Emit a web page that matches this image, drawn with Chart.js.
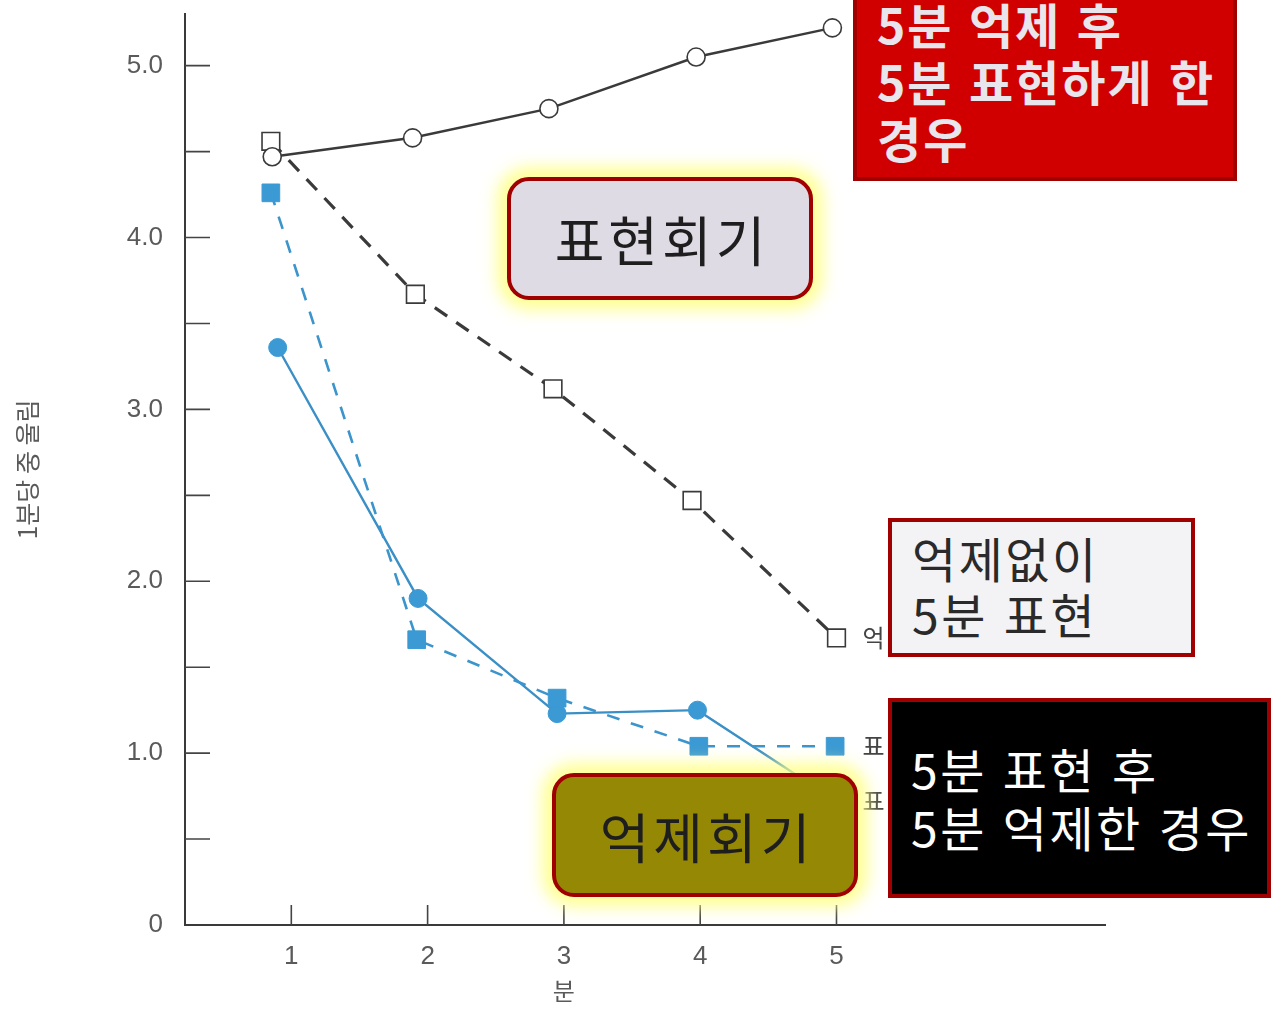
<!DOCTYPE html>
<html lang="ko">
<head>
<meta charset="utf-8">
<script src="https://cdn.jsdelivr.net/npm/chart.js@4.4.1/dist/chart.umd.min.js"></script>
<style>
  html, body { margin: 0; padding: 0; background: #fff; }
  #wrap { position: relative; width: 1278px; height: 1009px; overflow: hidden; }
  canvas { position: absolute; left: 0; top: 0; }
  .note {
    position: absolute;
    box-sizing: border-box;
    border: 4px solid #a00000;
    font-family: "Noto Sans CJK KR", "Noto Sans", sans-serif;
    white-space: nowrap;
  }
  .session {
    border-radius: 22px;
    font-size: 54px;
    letter-spacing: 4px;
    color: #1e1e1e;
    display: flex;
    align-items: center;
    justify-content: center;
    box-shadow: 0 0 16px 10px rgba(255, 255, 130, 0.85);
  }
</style>
</head>
<body>
<div id="wrap">
  <canvas id="chart" width="1278" height="1009"></canvas>
  <div class="note" style="left:853px;top:-9px;width:384px;height:190px;background:#d10000;color:#e8e6ec;font-weight:bold;font-size:48px;letter-spacing:2px;line-height:57px;padding:0 0 0 20px;">5분 억제 후<br>5분 표현하게 한<br>경우</div>
  <div class="note session" style="left:507px;top:177px;width:306px;height:123px;background:#dfdbe5;padding-left:4px;">표현회기</div>
  <div class="note" style="left:888px;top:518px;width:307px;height:139px;background:#f3f3f5;color:#2a2a2a;font-size:48px;letter-spacing:2.5px;line-height:56px;padding:7px 0 0 20px;">억제없이<br>5분 표현</div>
  <div class="note" style="left:888px;top:698px;width:383px;height:200px;background:#000;color:#fff;font-size:48px;letter-spacing:2.5px;line-height:58px;padding:37px 0 0 19px;">5분 표현 후<br>5분 억제한 경우</div>
  <div class="note session" style="left:552px;top:773px;width:306px;height:124px;background:#958805;padding-left:4px;">억제회기</div>
</div>
<script>
"use strict";

// readings from the figure (x = minute, y = value per minute)
const xTicks = [1, 2, 3, 4, 5];
const yTicks = [0, 1, 2, 3, 4, 5];
const yMinorTicks = [0.5, 1, 1.5, 2, 2.5, 3, 3.5, 4, 4.5, 5];

// 5분 억제 후 5분 표현 (solid, open circles)
const supThenExpX = [0.86, 1.89, 2.89, 3.97, 4.97];
const supThenExpY = [4.47, 4.58, 4.75, 5.05, 5.22];

// 억제없이 5분 표현 (dashed, open squares)
const expOnlyX = [0.85, 1.91, 2.92, 3.94, 5.0];
const expOnlyY = [4.56, 3.67, 3.12, 2.47, 1.67];

// dashed blue, filled squares
const blueDashX = [0.85, 1.92, 2.95, 3.99, 4.99];
const blueDashY = [4.26, 1.66, 1.32, 1.04, 1.04];

// 5분 표현 후 5분 억제 (solid blue, filled circles)
const expThenSupX = [0.9, 1.93, 2.95, 3.98, 5.0];
const expThenSupY = [3.36, 1.9, 1.23, 1.25, 0.72];

const endLabels = ["", "억", "표", "표"];

const toPoints = (xs, ys) => xs.map((x, i) => ({ x, y: ys[i] }));

const axisFont = { family: "'Liberation Sans', Arial, sans-serif", size: 26 };
const inkGray = "#5a5a5a";

const innerTicks = {
  id: "innerTicks",
  afterDraw(chart) {
    const { ctx, chartArea, scales } = chart;
    const { x, y } = scales;
    ctx.save();
    ctx.strokeStyle = "#444";
    ctx.lineWidth = 1.6;
    ctx.beginPath();
    for (const v of yMinorTicks) {
      const py = y.getPixelForValue(v);
      ctx.moveTo(chartArea.left, py);
      ctx.lineTo(chartArea.left + 25, py);
    }
    for (const v of xTicks) {
      const px = x.getPixelForValue(v);
      ctx.moveTo(px, chartArea.bottom);
      ctx.lineTo(px, chartArea.bottom - 20);
    }
    ctx.stroke();

    // short labels at the right end of each line
    ctx.fillStyle = "#444";
    ctx.font = "24px 'Noto Sans CJK KR', sans-serif";
    ctx.textBaseline = "middle";
    chart.data.datasets.forEach((ds, i) => {
      if (!endLabels[i]) return;
      const last = ds.data[ds.data.length - 1];
      ctx.fillText(endLabels[i], x.getPixelForValue(5) + 26, y.getPixelForValue(last.y));
    });

    // x axis title sits under the middle tick, not the middle of the axis
    ctx.fillStyle = inkGray;
    ctx.textAlign = "center";
    ctx.fillText("분", x.getPixelForValue(3), chartArea.bottom + 66);
    ctx.restore();
  },
};

new Chart(document.getElementById("chart"), {
  type: "line",
  data: {
    datasets: [
      {
        label: "5분 억제 후 5분 표현",
        data: toPoints(supThenExpX, supThenExpY),
        borderColor: "#3a3a3a",
        borderWidth: 2.5,
        pointStyle: "circle",
        pointRadius: 9,
        pointBackgroundColor: "#fff",
        pointBorderColor: "#3a3a3a",
        pointBorderWidth: 1.6,
      },
      {
        label: "억제없이 5분 표현",
        data: toPoints(expOnlyX, expOnlyY),
        borderColor: "#3a3a3a",
        borderWidth: 3.2,
        borderDash: [15, 11],
        pointStyle: "rect",
        pointRadius: 12.5,
        pointBackgroundColor: "#fff",
        pointBorderColor: "#3a3a3a",
        pointBorderWidth: 1.6,
      },
      {
        label: "표현",
        data: toPoints(blueDashX, blueDashY),
        borderColor: "#3b94cc",
        borderWidth: 2.6,
        borderDash: [13, 12],
        pointStyle: "rect",
        pointRadius: 12.5,
        pointBackgroundColor: "#3b9ad4",
        pointBorderColor: "#3b9ad4",
        pointBorderWidth: 1,
      },
      {
        label: "5분 표현 후 5분 억제",
        data: toPoints(expThenSupX, expThenSupY),
        borderColor: "#3a8fc6",
        borderWidth: 2.4,
        pointStyle: "circle",
        pointRadius: 9,
        pointBackgroundColor: "#3b9ad4",
        pointBorderColor: "#3b9ad4",
        pointBorderWidth: 1,
      },
    ],
  },
  options: {
    responsive: false,
    animation: false,
    events: [],
    layout: { padding: { top: 14, right: 173, left: 0, bottom: 0 } },
    elements: { line: { tension: 0 } },
    plugins: {
      legend: { display: false },
      tooltip: { enabled: false },
    },
    scales: {
      x: {
        type: "linear",
        min: 0.22,
        max: 6.97,
        afterFit: (scale) => {
          scale.height = 84;
          scale.paddingLeft = 0;
          scale.paddingRight = 0;
        },
        afterBuildTicks: (scale) => {
          scale.ticks = xTicks.map((value) => ({ value }));
        },
        grid: { display: true, drawOnChartArea: false, drawTicks: false },
        border: { display: true, color: "#3a3a3a", width: 2 },
        ticks: {
          color: inkGray,
          font: axisFont,
          padding: 16,
          callback: (v) => String(v),
        },
        title: { display: false },
      },
      y: {
        type: "linear",
        min: 0,
        max: 5.3,
        afterFit: (scale) => {
          scale.width = 185;
          scale.paddingTop = 0;
          scale.paddingBottom = 0;
        },
        afterBuildTicks: (scale) => {
          scale.ticks = yTicks.map((value) => ({ value }));
        },
        grid: { display: true, drawOnChartArea: false, drawTicks: false },
        border: { display: true, color: "#3a3a3a", width: 2 },
        ticks: {
          color: inkGray,
          font: axisFont,
          padding: 22,
          callback: (v) => (v === 0 ? "0" : v.toFixed(1)),
        },
        title: {
          display: true,
          text: "1분당 중 울림",
          color: inkGray,
          font: { family: "'Noto Sans CJK KR', sans-serif", size: 25 },
          padding: { top: 12, bottom: 0 },
        },
      },
    },
  },
  plugins: [innerTicks],
});
</script>
</body>
</html>
